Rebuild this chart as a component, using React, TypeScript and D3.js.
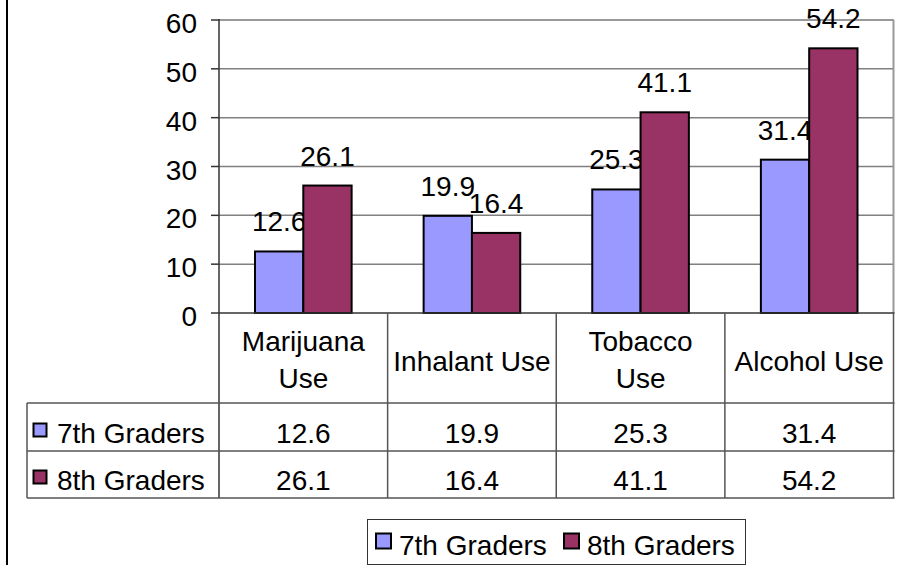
import React from "react";
import * as d3 from "d3";

const categories = ["Marijuana Use", "Inhalant Use", "Tobacco Use", "Alcohol Use"];
const headerLines = [["Marijuana", "Use"], ["Inhalant Use"], ["Tobacco", "Use"], ["Alcohol Use"]];
const seriesNames = ["7th Graders", "8th Graders"];
const seventh = [12.6, 19.9, 25.3, 31.4];
const eighth = [26.1, 16.4, 41.1, 54.2];
const yTicks = [0, 10, 20, 30, 40, 50, 60];
const colors = ["#9999FF", "#993366"];

const W = 904;
const H = 565;
const FONT = "'Liberation Sans', Arial, Helvetica, sans-serif";
const FS = 28;

export default function App() {
  const left = 219;
  const right = 893.5;
  const top = 20;
  const bottom = 313;
  const seriesValues = [seventh, eighth];

  const x0 = d3.scaleBand<string>().domain(categories).range([left, right]);
  const bw = x0.bandwidth();
  const x1 = d3.scaleBand<string>().domain(seriesNames).range([36, bw - 36]);
  const y = d3.scaleLinear().domain([0, 60]).range([bottom, top]);

  const rowTop = 403;
  const rowMid = 451;
  const rowBot = 498;
  const tableLeft = 27;
  const lineColor = "#555";

  return (
    <svg
      width={W}
      height={H}
      viewBox={`0 0 ${W} ${H}`}
      style={{ position: "absolute", left: 0, top: 0, background: "#fff" }}
      fontFamily={FONT}
    >
      <rect x={0} y={0} width={W} height={H} fill="#fff" />
      {/* outer frame edge */}
      <rect x={6} y={0} width={2} height={H} fill="#000" />

      {/* gridlines */}
      {yTicks.filter((t) => t > 0 && t < 60).map((t) => (
        <line key={"g" + t} x1={left} x2={right} y1={y(t)} y2={y(t)} stroke="#808080" strokeWidth={1.5} />
      ))}
      {/* plot area border (top and right) */}
      <line x1={left} x2={right + 0.5} y1={y(60)} y2={y(60)} stroke="#999" strokeWidth={2} />
      <line x1={right} x2={right} y1={y(60)} y2={bottom} stroke="#999" strokeWidth={2} />

      {/* y axis */}
      <line x1={left} x2={left} y1={top - 1} y2={rowBot} stroke="#333" strokeWidth={1.5} />
      {yTicks.map((t) => (
        <g key={"t" + t}>
          <line x1={left - 8} x2={left} y1={y(t)} y2={y(t)} stroke="#333" strokeWidth={1.5} />
          <text x={197} y={y(t) + 13} fontSize={FS} textAnchor="end" fill="#000">
            {t}
          </text>
        </g>
      ))}

      {/* bars */}
      {categories.map((c, i) => (
        <g key={c} transform={`translate(${x0(c)},0)`}>
          {seriesNames.map((s, j) => {
            const v = seriesValues[j][i];
            const bx = x1(s)!;
            const bwid = x1.bandwidth();
            return (
              <g key={s}>
                <rect
                  x={bx}
                  y={y(v)}
                  width={bwid}
                  height={bottom - y(v)}
                  fill={colors[j]}
                  stroke="#000"
                  strokeWidth={2}
                />
                <text x={bx + bwid / 2} y={y(v) - 20} fontSize={FS} textAnchor="middle" fill="#000">
                  {v.toFixed(1)}
                </text>
              </g>
            );
          })}
        </g>
      ))}
      {/* category axis baseline */}
      <line x1={left} x2={right + 1} y1={bottom} y2={bottom} stroke="#333" strokeWidth={1.5} />

      {/* data table */}
      {categories.map((c, i) => {
        const cx = x0(c)! + bw / 2;
        const lines = headerLines[i];
        const baselines = lines.length === 2 ? [351, 388] : [371];
        return (
          <g key={"h" + c}>
            {lines.map((ln, k) => (
              <text key={k} x={cx} y={baselines[k]} fontSize={FS} textAnchor="middle" fill="#000">
                {ln}
              </text>
            ))}
            <text x={cx} y={443} fontSize={FS} textAnchor="middle" fill="#000">
              {seventh[i].toFixed(1)}
            </text>
            <text x={cx} y={490} fontSize={FS} textAnchor="middle" fill="#000">
              {eighth[i].toFixed(1)}
            </text>
            <line x1={x0(c)! + bw} x2={x0(c)! + bw} y1={bottom} y2={rowBot} stroke={lineColor} strokeWidth={1.5} />
          </g>
        );
      })}
      {[rowTop, rowMid, rowBot].map((ry) => (
        <line key={"r" + ry} x1={tableLeft} x2={right + 1} y1={ry} y2={ry} stroke={lineColor} strokeWidth={1.5} />
      ))}
      <line x1={tableLeft} x2={tableLeft} y1={rowTop} y2={rowBot} stroke={lineColor} strokeWidth={1.5} />
      {seriesNames.map((s, j) => {
        const base = j === 0 ? 443 : 490;
        return (
          <g key={"row" + s}>
            <rect x={33.5} y={base - 19.5} width={13} height={13} fill={colors[j]} stroke="#000" strokeWidth={2} />
            <text x={57} y={base} fontSize={FS} fill="#000">
              {s}
            </text>
          </g>
        );
      })}

      {/* legend */}
      <rect x={367.5} y={519.5} width={378} height={45} fill="#fff" stroke="#333" strokeWidth={1} />
      {seriesNames.map((s, j) => {
        const sx = j === 0 ? 376 : 564;
        return (
          <g key={"lg" + s}>
            <rect x={sx} y={533.5} width={15} height={15} fill={colors[j]} stroke="#000" strokeWidth={2} />
            <text x={sx + 23} y={555} fontSize={FS} fill="#000">
              {s}
            </text>
          </g>
        );
      })}
    </svg>
  );
}
